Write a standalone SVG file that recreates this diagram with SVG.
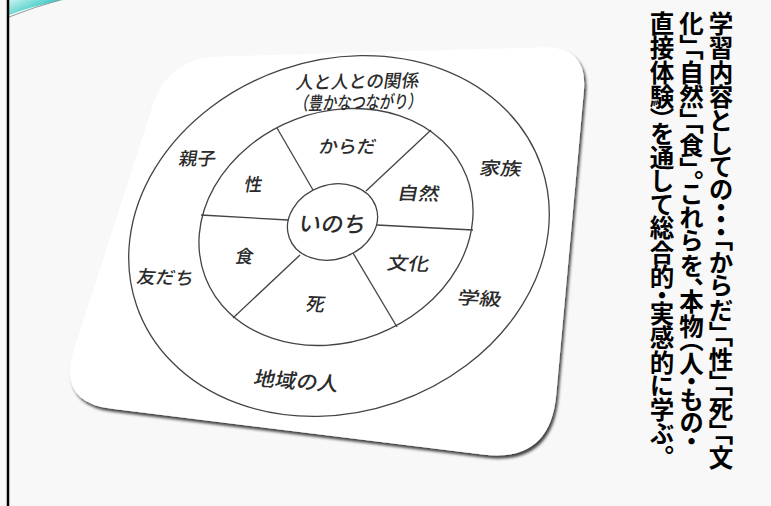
<svg xmlns="http://www.w3.org/2000/svg" width="771" height="506" viewBox="0 0 771 506">
<defs>
<linearGradient id="sw" x1="0" y1="0" x2="1" y2="0.6">
<stop offset="0" stop-color="#c9f3ee"/>
<stop offset="0.6" stop-color="#4fd0cc"/>
<stop offset="1" stop-color="#22b5b8"/>
</linearGradient>
<filter id="sh" x="-10%" y="-10%" width="125%" height="125%">
<feDropShadow dx="2" dy="3" stdDeviation="1.8" flood-color="#000" flood-opacity="0.75"/>
</filter>
<style>
.ring{fill:none;stroke:#444;stroke-width:1.3}
.spoke{stroke:#444;stroke-width:1.3}
.lb{font-family:"Noto Sans CJK JP","Noto Sans CJK SC",sans-serif;fill:#2b2b2b;font-weight:500;text-anchor:middle;dominant-baseline:central;font-size:18px}
.vt{font-family:"Noto Sans CJK JP","Noto Sans CJK SC",sans-serif;font-weight:bold;font-size:24.5px;fill:#000;writing-mode:vertical-rl;font-feature-settings:"vpal"}
</style>
</defs>
<rect width="771" height="506" fill="#f8f8f8"/>
<g id="swoosh">
<path d="M9,0 L9,15 Q32,6 63,0 Z" fill="url(#sw)"/>
<path d="M9,17 Q34,7 60,0" fill="none" stroke="#8a9a9a" stroke-width="1"/>
</g>
<line x1="8" y1="0" x2="8" y2="506" stroke="#000" stroke-width="2.5"/>
<g id="board">
<path d="M218,56.6 L543,47.3 Q588,46 583.9,90.8 L556.2,395.3 Q550,463 482.5,454.6 L111.6,408.8 Q57,402 73.9,349.7 L152.6,105.6 Q168,58 218,56.6 Z" fill="#fff" filter="url(#sh)"/>
</g>
<g id="rings">
<ellipse class="ring" cx="0" cy="0" rx="214" ry="176" transform="translate(339,236) rotate(-19)"/>
<ellipse class="ring" cx="0" cy="0" rx="140" ry="115" transform="translate(336,227) rotate(-21)"/>
</g>
<g id="connectors">
<line class="spoke" x1="313" y1="190" x2="277" y2="128"/>
<line class="spoke" x1="366" y1="191" x2="431" y2="130"/>
<line class="spoke" x1="377" y1="225" x2="473" y2="230"/>
<line class="spoke" x1="353" y1="253" x2="397" y2="327"/>
<line class="spoke" x1="300" y1="255" x2="233" y2="318"/>
<line class="spoke" x1="288" y1="220" x2="201" y2="215"/>
</g>
<g id="inochi">
<ellipse cx="0" cy="0" rx="46" ry="37" transform="translate(332.5,222) rotate(-20)" fill="#fff" stroke="#444" stroke-width="1.3"/>
<text class="lb" transform="translate(333,222) rotate(1) skewX(-10)" style="font-size:22px" textLength="67" lengthAdjust="spacingAndGlyphs">いのち</text>
</g>
<g id="kankei">
<text class="lb" transform="translate(358,80) rotate(-1) skewX(-10)" textLength="123" lengthAdjust="spacingAndGlyphs">人と人との関係</text>
<text class="lb" transform="translate(359,101) rotate(-1) skewX(-10)" textLength="128" lengthAdjust="spacingAndGlyphs">（豊かなつながり）</text>
</g>
<g id="karada"><text class="lb" transform="translate(348,145) rotate(0) skewX(-10)" textLength="57" lengthAdjust="spacingAndGlyphs">からだ</text></g>
<g id="sei"><text class="lb" transform="translate(254,183) rotate(0) skewX(-10)">性</text></g>
<g id="shizen"><text class="lb" transform="translate(419,192) rotate(1) skewX(-10)" textLength="42" lengthAdjust="spacingAndGlyphs">自然</text></g>
<g id="bunka"><text class="lb" transform="translate(409,262) rotate(2) skewX(-10)" textLength="42" lengthAdjust="spacingAndGlyphs">文化</text></g>
<g id="shi"><text class="lb" transform="translate(316,303) rotate(2) skewX(-10)" style="font-size:19px">死</text></g>
<g id="shoku"><text class="lb" transform="translate(245,255) rotate(2) skewX(-10)">食</text></g>
<g id="oyako"><text class="lb" transform="translate(198,157) rotate(0) skewX(-10)" textLength="37" lengthAdjust="spacingAndGlyphs">親子</text></g>
<g id="tomodachi"><text class="lb" transform="translate(166,276) rotate(2) skewX(-10)" textLength="57" lengthAdjust="spacingAndGlyphs">友だち</text></g>
<g id="chiiki"><text class="lb" transform="translate(297,380) rotate(4) skewX(-10)" style="font-size:20px" textLength="85" lengthAdjust="spacingAndGlyphs">地域の人</text></g>
<g id="kazoku"><text class="lb" transform="translate(501,167) rotate(1) skewX(-10)" textLength="42" lengthAdjust="spacingAndGlyphs">家族</text></g>
<g id="gakkyu"><text class="lb" transform="translate(480,297) rotate(3) skewX(-10)" textLength="44" lengthAdjust="spacingAndGlyphs">学級</text></g>
<g id="caption">
<text class="vt" x="721" y="11">学習内容としての・・・「からだ」「性」「死」「文</text>
<text class="vt" x="691.5" y="11">化」「自然」「食」。これらを、本物（人・もの・</text>
<text class="vt" x="662" y="11">直接体験）を通して総合的・実感的に学ぶ。</text>
</g>
</svg>
